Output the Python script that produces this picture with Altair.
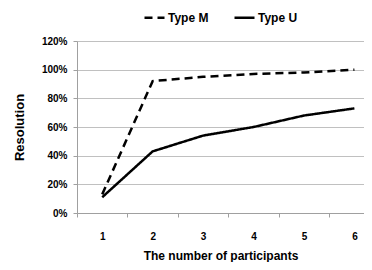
import altair as alt
import pandas as pd

participants = [1, 2, 3, 4, 5, 6]
type_m = [0.13, 0.92, 0.95, 0.97, 0.98, 1.00]
type_u = [0.11, 0.43, 0.54, 0.60, 0.68, 0.73]
series = ["Type M", "Type U"]

rows = []
for p, m, u in zip(participants, type_m, type_u):
    rows.append({"n": p, "value": m, "type": series[0]})
    rows.append({"n": p, "value": u, "type": series[1]})
df = pd.DataFrame(rows)

FONT = "Liberation Sans"
W, H = 287, 172
x_max = 6.19
px_per_unit = W / (x_max - 0.5)

chart = alt.Chart(df).mark_line(color="black", strokeWidth=2.5).encode(
    x=alt.X("n:Q",
            scale=alt.Scale(domain=[0.5, x_max], nice=False, zero=False),
            axis=alt.Axis(values=participants, format="d", grid=False,
                          title="The number of  participants",
                          tickOffset=-px_per_unit / 2, labelOffset=px_per_unit / 2,
                          tickSize=4,
                          tickColor="#a0a0a0", domainColor="#a0a0a0",
                          labelPadding=14, titlePadding=9,
                          labelFont=FONT, labelFontWeight="bold", labelFontSize=10,
                          titleFont=FONT, titleFontWeight="bold", titleFontSize=12,
                          labelColor="black", titleColor="black")),
    y=alt.Y("value:Q",
            scale=alt.Scale(domain=[0, 1.2], nice=False),
            axis=alt.Axis(values=[0, 0.2, 0.4, 0.6, 0.8, 1.0, 1.2], format=".0%",
                          title="Resolution", gridColor="#c0c0c0", gridWidth=1,
                          tickSize=4, tickColor="#a0a0a0", domainColor="#a0a0a0",
                          labelPadding=6, titlePadding=15,
                          labelFont=FONT, labelFontWeight="bold", labelFontSize=10,
                          titleFont=FONT, titleFontWeight="bold", titleFontSize=13,
                          labelColor="black", titleColor="black")),
    strokeDash=alt.StrokeDash("type:N",
                              scale=alt.Scale(domain=series, range=[[8, 5], [1, 0]]),
                              legend=alt.Legend(title=None, orient="none", direction="horizontal",
                                                legendX=66, legendY=-35,
                                                symbolType="stroke", symbolStrokeWidth=2.5,
                                                symbolStrokeColor="black", symbolSize=400,
                                                columnPadding=20, labelOffset=2,
                                                labelFont=FONT, labelFontWeight="bold",
                                                labelFontSize=12, labelColor="black")),
    detail="type:N",
).properties(
    width=W, height=H,
    autosize=alt.AutoSizeParams(type="none"),
    padding={"left": 69, "top": 33, "right": 0, "bottom": 49},
).configure_view(stroke=None)

chart.save("out.html", embed_options={"renderer": "svg", "actions": False})
